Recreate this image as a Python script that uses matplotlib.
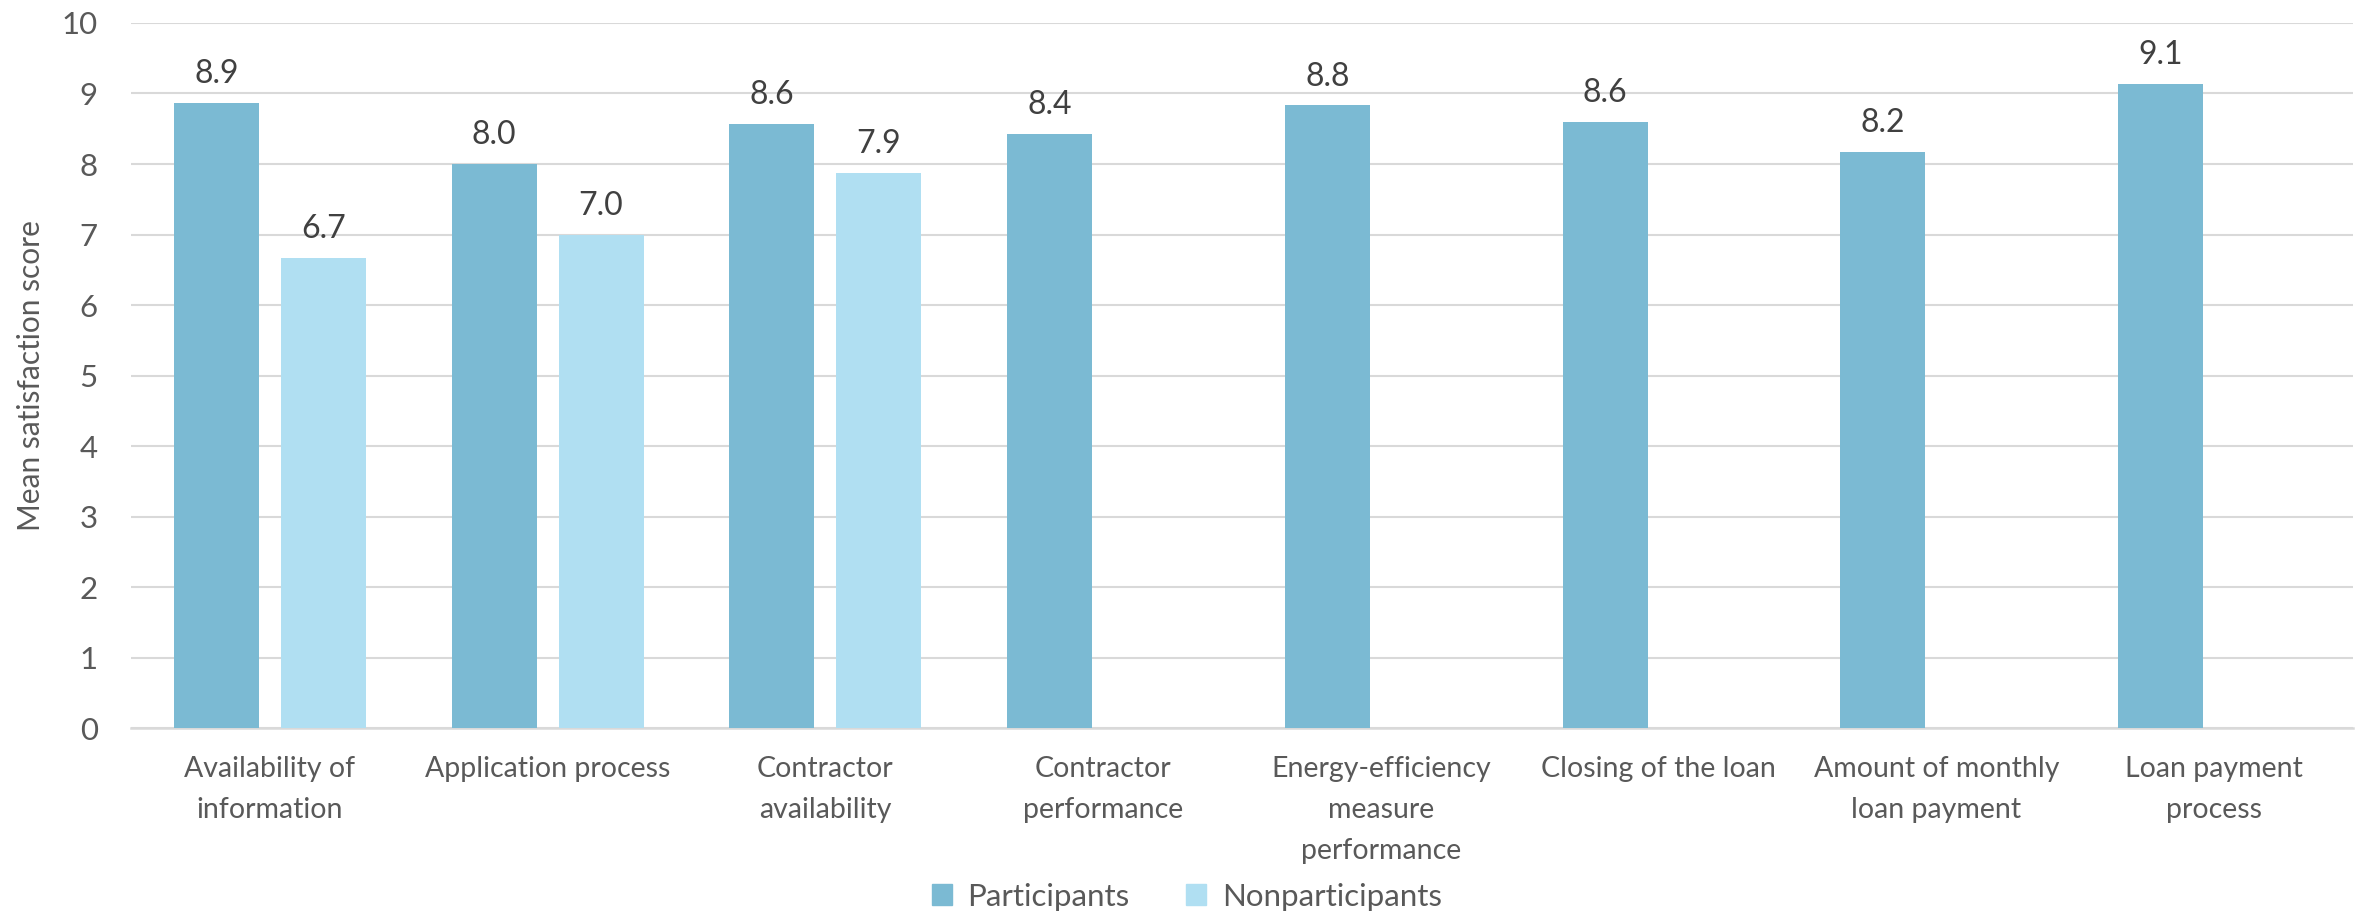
import numpy as np
import matplotlib.pyplot as plt
from matplotlib.patches import Patch

plt.rcParams['font.family'] = ['Lato', 'DejaVu Sans']

categories = [
    "Availability of\ninformation",
    "Application process",
    "Contractor\navailability",
    "Contractor\nperformance",
    "Energy-efficiency\nmeasure\nperformance",
    "Closing of the loan",
    "Amount of monthly\nloan payment",
    "Loan payment\nprocess",
]
participants = [8.87, 8.00, 8.57, 8.43, 8.83, 8.60, 8.17, 9.13]
nonparticipants = [6.67, 7.00, 7.87, None, None, None, None, None]

col_part = "#7BBAD3"
col_nonpart = "#B0DFF2"
col_grid = "#D9D9D9"
col_tick = "#595959"
col_label = "#404040"

fig = plt.figure(figsize=(23.64, 9.16), dpi=100)
ax = fig.add_axes([0.0554, 0.2052, 0.9399, 0.7697])

x = np.arange(len(categories))
bar_w = 0.306
gap = 0.079
off = (bar_w + gap) / 2

for i in range(len(categories)):
    p = participants[i]
    ax.bar(x[i] - off, p, width=bar_w, color=col_part, zorder=3)
    ax.text(x[i] - off, p + 0.41, "{:.1f}".format(p), ha="center", va="center",
            fontsize=23, color=col_label)
    n = nonparticipants[i]
    if n is not None:
        ax.bar(x[i] + off, n, width=bar_w, color=col_nonpart, zorder=3)
        ax.text(x[i] + off, n + 0.41, "{:.1f}".format(n), ha="center", va="center",
                fontsize=23, color=col_label)

ax.set_xlim(-0.5, len(categories) - 0.5)
ax.set_ylim(0, 10)
ax.set_yticks(range(0, 11))
ax.yaxis.grid(True, color=col_grid, linewidth=1.5, zorder=0)
ax.set_axisbelow(True)

for s in ["top", "right", "left"]:
    ax.spines[s].set_visible(False)
ax.spines["bottom"].set_color(col_grid)
ax.spines["bottom"].set_linewidth(1.8)

ax.set_xticks(x)
ax.set_xticklabels(categories, fontsize=20.5, color=col_tick, linespacing=1.72,
                   va="top")
ax.tick_params(axis="x", length=0, pad=20)
ax.tick_params(axis="y", length=0, pad=24, labelsize=22.5, labelcolor=col_tick)

ax.set_ylabel("Mean satisfaction score", fontsize=21.5, color=col_tick, labelpad=12)

handles = [Patch(color=col_part, label="Participants"),
           Patch(color=col_nonpart, label="Nonparticipants")]
fig.legend(handles=handles, loc="center", bbox_to_anchor=(0.502, 0.021), ncol=2,
           frameon=False, fontsize=22.5, labelcolor=col_tick, handlelength=0.65,
           handleheight=0.65, handletextpad=0.5, columnspacing=1.8)

fig.savefig("out.png", dpi=100)
